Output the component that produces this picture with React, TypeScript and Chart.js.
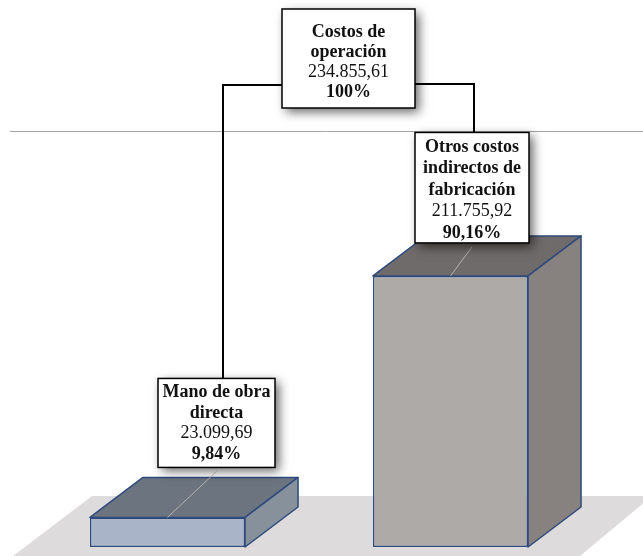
import React, { useEffect, useRef } from "react";
import { Chart, registerables } from "chart.js";

Chart.register(...registerables);

// ---- data ----
const categories = ["Mano de obra directa", "Otros costos indirectos de fabricación"];
const values = [23099.69, 211755.92];
const titleLines = [["Mano de obra", "directa"], ["Otros costos", "indirectos de", "fabricación"]];
const totalTitleLines = ["Costos de", "operación"];
const yMax = 325000;

// ---- style ----
const frontColors = ["#aab4c8", "#aeaaa8"];
const topColors = ["#6c747f", "#6f6b6a"];
const sideColors = ["#87919c", "#87827f"];
const edgeColor = "#2f4a7c";
const depthDX = 53;
const depthDY = -40;
const FONT = '"Liberation Serif", "Times New Roman", serif';
const FONT_SIZE = 18;

function fmt(n: number): string {
  const [i, d] = n.toFixed(2).split(".");
  const withDots = i.replace(/\B(?=(\d{3})+(?!\d))/g, ".");
  return withDots + "," + d;
}
function pct(n: number): string {
  return n.toFixed(2).replace(".", ",") + "%";
}

type Line = { text: string; bold: boolean };

function drawBox(
  ctx: CanvasRenderingContext2D,
  cx: number,
  top: number,
  width: number,
  lines: Line[],
  lineH: number,
  padTop: number,
  padBottom: number
) {
  const h = padTop + padBottom + lines.length * lineH;
  const left = cx - width / 2;
  ctx.save();
  ctx.shadowColor = "rgba(0,0,0,0.6)";
  ctx.shadowBlur = 10;
  ctx.shadowOffsetX = 4;
  ctx.shadowOffsetY = 4;
  ctx.fillStyle = "#ffffff";
  ctx.fillRect(left, top, width, h);
  ctx.restore();
  ctx.save();
  ctx.strokeStyle = "#000";
  ctx.lineWidth = 1.5;
  ctx.strokeRect(left, top, width, h);
  ctx.fillStyle = "#111";
  ctx.textAlign = "center";
  ctx.textBaseline = "middle";
  lines.forEach((l, i) => {
    ctx.font = (l.bold ? "bold " : "") + FONT_SIZE + "px " + FONT;
    ctx.fillText(l.text, cx, top + padTop + lineH * (i + 0.5) + 1);
  });
  ctx.restore();
  return { left, right: left + width, top, bottom: top + h, h };
}

const threeD = {
  id: "threeD",
  beforeDatasetsDraw(chart: any) {
    const ctx: CanvasRenderingContext2D = chart.ctx;
    const ys = chart.scales.y;
    const ca = chart.chartArea;
    const zero = ys.getPixelForValue(0);
    const top = ys.getPixelForValue(yMax);
    // horizontal grey line
    ctx.save();
    ctx.strokeStyle = "#a6a6a6";
    ctx.lineWidth = 1;
    ctx.beginPath();
    ctx.moveTo(10, Math.round(top) + 0.5);
    ctx.lineTo(chart.width, Math.round(top) + 0.5);
    ctx.stroke();
    // floor
    const fTop = zero - 51;
    const fBot = zero + 9;
    ctx.fillStyle = "#dddbdc";
    ctx.beginPath();
    ctx.moveTo(ca.left + 66, fTop);
    ctx.lineTo(ca.right + 60, fTop);
    ctx.lineTo(ca.right - 12, fBot);
    ctx.lineTo(ca.left - 13, fBot);
    ctx.closePath();
    ctx.fill();
    ctx.restore();
  },
  afterDatasetsDraw(chart: any) {
    const ctx: CanvasRenderingContext2D = chart.ctx;
    const meta = chart.getDatasetMeta(0);
    meta.data.forEach((bar: any, i: number) => {
      const p = bar.getProps(["x", "y", "base", "width"], true);
      const L = p.x - p.width / 2;
      const R = p.x + p.width / 2;
      const T = p.y;
      const B = p.base;
      ctx.save();
      ctx.lineJoin = "round";
      ctx.strokeStyle = edgeColor;
      ctx.lineWidth = 1.5;
      // top face
      ctx.fillStyle = topColors[i];
      ctx.beginPath();
      ctx.moveTo(L, T);
      ctx.lineTo(L + depthDX, T + depthDY);
      ctx.lineTo(R + depthDX, T + depthDY);
      ctx.lineTo(R, T);
      ctx.closePath();
      ctx.fill();
      ctx.stroke();
      // side face
      ctx.fillStyle = sideColors[i];
      ctx.beginPath();
      ctx.moveTo(R, T);
      ctx.lineTo(R + depthDX, T + depthDY);
      ctx.lineTo(R + depthDX, B + depthDY);
      ctx.lineTo(R, B);
      ctx.closePath();
      ctx.fill();
      ctx.stroke();
      ctx.restore();
    });
  },
  afterDraw(chart: any) {
    const ctx: CanvasRenderingContext2D = chart.ctx;
    const meta = chart.getDatasetMeta(0);
    const total = values.reduce((a, b) => a + b, 0);
    const boxSpecs = [
      { dx: 49, gap: 50, width: 117, lineH: 20.5, padTop: 3, padBottom: 4 },
      { dx: 21.5, gap: 33, width: 114, lineH: 21.5, padTop: 3, padBottom: 0 },
    ];
    const childBoxes: { cx: number; top: number }[] = [];
    meta.data.forEach((bar: any, i: number) => {
      const p = bar.getProps(["x", "y"], true);
      const s = boxSpecs[i];
      const lines: Line[] = [
        ...titleLines[i].map((t) => ({ text: t, bold: true })),
        { text: fmt(values[i]), bold: false },
        { text: pct((values[i] / total) * 100), bold: true },
      ];
      const h = s.padTop + s.padBottom + lines.length * s.lineH;
      const bottom = p.y - s.gap;
      const top = bottom - h;
      const cx = p.x + s.dx;
      // leader line
      ctx.save();
      ctx.strokeStyle = "rgba(190,186,182,0.9)";
      ctx.lineWidth = 1;
      ctx.beginPath();
      ctx.moveTo(cx, bottom + 4);
      ctx.lineTo(p.x, p.y);
      ctx.stroke();
      ctx.restore();
      drawBox(ctx, cx, top, s.width, lines, s.lineH, s.padTop, s.padBottom);
      childBoxes.push({ cx, top });
    });
    // top total box
    const b0 = meta.data[0].getProps(["x"], true);
    const b1 = meta.data[1].getProps(["x"], true);
    const tcx = (b0.x + b1.x) / 2 + 39.5;
    const tTop = 9;
    const tWidth = 133;
    const tLines: Line[] = [
      ...totalTitleLines.map((t) => ({ text: t, bold: true })),
      { text: fmt(total), bold: false },
      { text: "100%", bold: true },
    ];
    // connectors
    const connY = tTop + 76;
    ctx.save();
    ctx.strokeStyle = "#000";
    ctx.lineWidth = 2;
    ctx.lineJoin = "miter";
    const lx = childBoxes[0].cx + 6.5;
    const rx = childBoxes[1].cx + 2;
    ctx.beginPath();
    ctx.moveTo(tcx - tWidth / 2, connY);
    ctx.lineTo(lx, connY);
    ctx.lineTo(lx, childBoxes[0].top);
    ctx.stroke();
    ctx.beginPath();
    ctx.moveTo(tcx + tWidth / 2, connY - 1);
    ctx.lineTo(rx, connY - 1);
    ctx.lineTo(rx, childBoxes[1].top);
    ctx.stroke();
    ctx.restore();
    drawBox(ctx, tcx, tTop, tWidth, tLines, 20, 12, 7);
  },
};

export default function App() {
  const ref = useRef<HTMLCanvasElement | null>(null);
  useEffect(() => {
    if (!ref.current) return;
    const chart = new Chart(ref.current, {
      type: "bar",
      data: {
        labels: categories,
        datasets: [
          {
            data: values,
            backgroundColor: frontColors,
            borderColor: edgeColor,
            borderWidth: 1.5,
            borderSkipped: false,
            categoryPercentage: 1,
            barPercentage: 0.548,
          },
        ],
      },
      options: {
        animation: false,
        responsive: false,
        maintainAspectRatio: false,
        layout: { padding: { left: 26, right: 51, top: 131, bottom: 9 } },
        plugins: { legend: { display: false }, tooltip: { enabled: false } },
        scales: {
          x: { display: false },
          y: { display: false, min: 0, max: yMax },
        },
      },
      plugins: [threeD],
    });
    return () => chart.destroy();
  }, []);
  return (
    <div style={{ position: "fixed", left: 0, top: 0, width: 643, height: 556, background: "#fff" }}>
      <canvas ref={ref} width={643} height={556} />
    </div>
  );
}
